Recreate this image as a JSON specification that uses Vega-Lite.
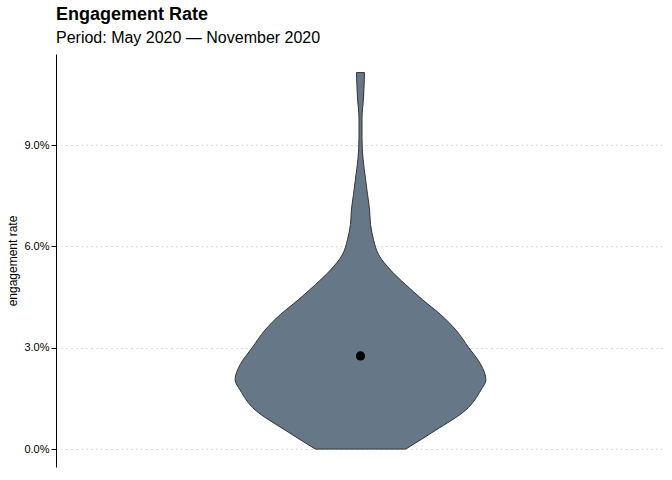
{
  "$schema": "https://vega.github.io/schema/vega-lite/v6.json",
  "width": 672,
  "height": 480,
  "autosize": {"type": "fit", "contains": "padding"},
  "padding": {"left": 6, "top": 6, "right": 7, "bottom": 13},
  "background": "white",
  "title": {
    "text": "Engagement Rate",
    "subtitle": "Period: May 2020 — November 2020",
    "anchor": "start",
    "frame": "group",
    "font": "Liberation Sans",
    "fontSize": 18,
    "fontWeight": "bold",
    "subtitleFont": "Liberation Sans",
    "subtitleFontSize": 16,
    "subtitleColor": "black",
    "subtitlePadding": 6,
    "offset": 8
  },
  "config": {
    "view": {"stroke": null},
    "axis": {"labelFont": "Liberation Sans", "titleFont": "Liberation Sans"}
  },
  "datasets": {
    "violin": [
      {"rate": 0.0, "lo": -45, "hi": 45},
      {"rate": 0.0056, "lo": -75, "hi": 75},
      {"rate": 0.0116, "lo": -105, "hi": 105},
      {"rate": 0.0175, "lo": -120, "hi": 120},
      {"rate": 0.0205, "lo": -125, "hi": 125},
      {"rate": 0.025, "lo": -120, "hi": 120},
      {"rate": 0.03, "lo": -108, "hi": 108},
      {"rate": 0.0353, "lo": -95, "hi": 95},
      {"rate": 0.0398, "lo": -80, "hi": 80},
      {"rate": 0.0442, "lo": -62, "hi": 62},
      {"rate": 0.0487, "lo": -45, "hi": 45},
      {"rate": 0.053, "lo": -30, "hi": 30},
      {"rate": 0.0576, "lo": -18, "hi": 18},
      {"rate": 0.062, "lo": -13, "hi": 13},
      {"rate": 0.0665, "lo": -10, "hi": 10},
      {"rate": 0.071, "lo": -9, "hi": 9},
      {"rate": 0.0754, "lo": -7, "hi": 7},
      {"rate": 0.08, "lo": -5, "hi": 5},
      {"rate": 0.086, "lo": -2.5, "hi": 2.5},
      {"rate": 0.092, "lo": -1.5, "hi": 1.5},
      {"rate": 0.098, "lo": -1.5, "hi": 1.5},
      {"rate": 0.104, "lo": -3, "hi": 3},
      {"rate": 0.1115, "lo": -4, "hi": 4}
    ],
    "mean": [{"pos": 0, "rate": 0.0276}]
  },
  "layer": [
    {
      "data": {"name": "violin"},
      "mark": {"type": "area", "orient": "horizontal", "color": "#667788", "stroke": "#333333", "strokeWidth": 1, "interpolate": "monotone"},
      "encoding": {
        "y": {
          "field": "rate", "type": "quantitative",
          "scale": {"domain": [-0.0053, 0.117], "nice": false, "zero": false},
          "axis": {
            "values": [0, 0.03, 0.06, 0.09],
            "format": ".1%",
            "title": "engagement rate",
            "titleFontWeight": "normal",
            "titleFontSize": 12,
            "titleColor": "black",
            "labelFontSize": 11,
            "labelColor": "black",
            "domainColor": "black",
            "tickColor": "black",
            "gridColor": "#bbbbbb",
            "gridDash": [1, 4],
            "gridWidth": 1.2
          }
        },
        "x": {"field": "lo", "type": "quantitative", "scale": {"domain": [-303.5, 303.5], "nice": false}, "axis": null},
        "x2": {"field": "hi"}
      }
    },
    {
      "data": {"name": "mean"},
      "mark": {"type": "point", "filled": true, "color": "black", "opacity": 1, "size": 85},
      "encoding": {
        "x": {"field": "pos", "type": "quantitative"},
        "y": {"field": "rate", "type": "quantitative"}
      }
    }
  ]
}
